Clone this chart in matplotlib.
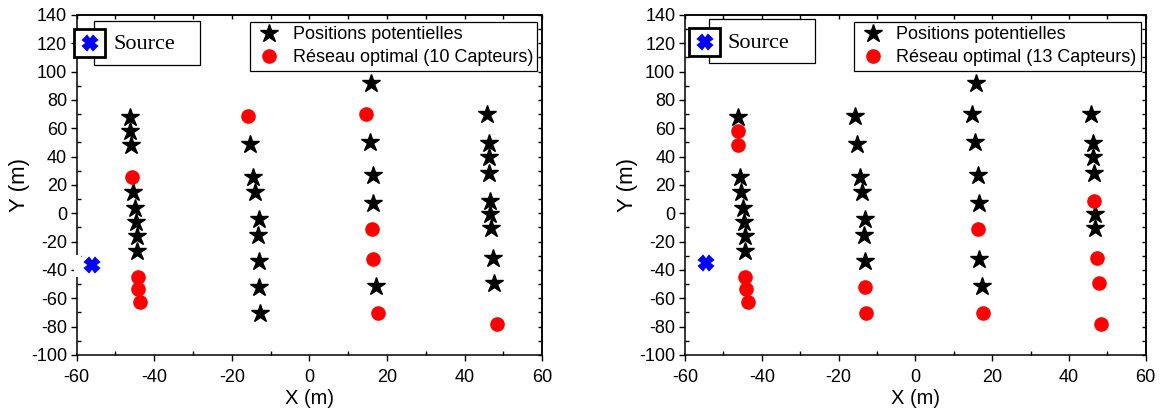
import matplotlib
matplotlib.use("Agg")
import matplotlib.pyplot as plt
from matplotlib.patches import Rectangle
from matplotlib.lines import Line2D

plt.rcParams['font.family'] = ['Liberation Sans', 'DejaVu Sans']
plt.rcParams['axes.unicode_minus'] = False

# potential sensor positions (4 lines of candidates)
pos_x = [-46.3, -46.2, -46.1, -45.8, -45.4, -45.0, -44.6, -44.5, -44.5, -44.3, -44.1, -43.7,
         -15.8, -15.3, -14.5, -14.0, -13.0, -13.3, -13.0, -13.0, -12.8,
         15.9, 14.7, 15.6, 16.4, 16.5, 16.2, 16.5, 17.3, 17.7,
         45.7, 46.2, 46.2, 46.4, 46.5, 46.7, 46.9, 47.3, 47.7, 48.4]
pos_y = [68.2, 58.2, 48.5, 25.9, 14.9, 4.0, -5.9, -16.0, -26.3, -44.7, -53.4, -62.5,
         68.8, 49.0, 25.9, 15.2, -4.0, -15.3, -33.6, -51.7, -70.5,
         92.2, 70.1, 50.6, 27.1, 7.5, -11.3, -32.5, -51.6, -70.1,
         70.1, 49.9, 39.6, 28.7, 8.7, -0.7, -10.5, -31.3, -48.9, -78.1]

# indices of the positions retained in each optimal network
optimal_10 = [3, 9, 10, 11, 12, 22, 26, 27, 29, 39]
optimal_13 = [1, 2, 9, 10, 11, 19, 20, 26, 29, 34, 37, 38, 39]

source_10 = (-56.1, -36.4)
source_13 = (-54.5, -35.2)

panels = [
    (optimal_10, source_10, "Réseau optimal (10 Capteurs)",
     [0.0659, 0.1446, 0.3998, 0.8193],
     (0.037, 0.853, 0.228, 0.129), (-0.006, 0.876, 0.067, 0.083), 0.078),
    (optimal_13, source_13, "Réseau optimal (13 Capteurs)",
     [0.5885, 0.1446, 0.3958, 0.8193],
     (0.052, 0.859, 0.230, 0.129), (0.009, 0.879, 0.067, 0.083), 0.093),
]


def draw_panel(fig, chosen, source, label, rect, frame, box, text_x):
    ax = fig.add_axes(rect)
    free = [i for i in range(len(pos_x)) if i not in chosen]
    ax.plot([pos_x[i] for i in free], [pos_y[i] for i in free], ls='none',
            marker='*', ms=13.5, color='black', zorder=3)
    ax.plot([pos_x[i] for i in chosen], [pos_y[i] for i in chosen], ls='none',
            marker='o', ms=9.5, color='red', mec='red', zorder=3)
    ax.plot([source[0]], [source[1]], ls='none', marker='X', ms=10,
            color='blue', mec='blue', mew=1.5, zorder=4)

    ax.set_xlim(-60, 60)
    ax.set_ylim(-100, 140)
    ax.set_xticks(range(-60, 61, 20))
    ax.set_yticks(range(-100, 141, 20))
    ax.set_xticks(range(-50, 60, 20), minor=True)
    ax.set_yticks(range(-90, 140, 20), minor=True)
    ax.tick_params(which='major', direction='out', length=4, width=1,
                   labelsize=13)
    ax.tick_params(axis='x', which='major', pad=6)
    ax.tick_params(axis='y', which='major', pad=3)
    ax.tick_params(which='minor', direction='in', length=3, width=1)
    for s in ax.spines.values():
        s.set_linewidth(1.1)

    top = ax.secondary_xaxis('top')
    top.set_xticks(range(-60, 61, 10))
    top.tick_params(direction='in', length=3, width=1, labeltop=False)
    right = ax.secondary_yaxis('right')
    right.set_yticks(range(-100, 141, 10))
    right.tick_params(direction='in', length=3, width=1, labelright=False)
    top.spines['top'].set_linewidth(1.1)
    right.spines['right'].set_linewidth(1.1)

    ax.set_xlabel("X (m)", fontsize=14.5, labelpad=2)
    ax.set_ylabel("Y (m)", fontsize=16, labelpad=0.5)

    handles = [
        Line2D([], [], ls='none', marker='*', ms=13.5, color='black'),
        Line2D([], [], ls='none', marker='o', ms=9.5, color='red'),
    ]
    leg = ax.legend(handles, ["Positions potentielles", label],
                    loc='upper right', bbox_to_anchor=(0.99, 0.98),
                    borderaxespad=0, fontsize=13, frameon=True,
                    fancybox=False, edgecolor='black', framealpha=1,
                    handletextpad=0.5, borderpad=0.25, labelspacing=0.32,
                    handlelength=1.6)
    leg.get_frame().set_linewidth(0.9)

    # "Source" legend box
    ax.add_patch(Rectangle(frame[:2], frame[2], frame[3], transform=ax.transAxes,
                           fill=True, facecolor='white', edgecolor='black',
                           lw=0.9, zorder=5, clip_on=False))
    ax.add_patch(Rectangle(box[:2], box[2], box[3], transform=ax.transAxes,
                           facecolor='white', edgecolor='black', lw=2,
                           zorder=6, clip_on=False))
    ax.plot([box[0] + box[2] / 2], [box[1] + box[3] / 2], marker='X', ms=10,
            color='blue', mec='blue', mew=1.5, transform=ax.transAxes,
            zorder=7, clip_on=False)
    ax.text(text_x, box[1] + box[3] / 2 - 0.005, "Source", transform=ax.transAxes,
            family='Liberation Serif', fontsize=16, va='center', ha='left',
            zorder=7)
    return ax


fig = plt.figure(figsize=(11.64, 4.15), dpi=100)
axes = [draw_panel(fig, *p) for p in panels]

# small white gap over the left spine next to the source (left panel)
axes[0].add_patch(Rectangle((-60.6, -44.8), 1.8, 15.5, facecolor='white',
                            edgecolor='none', zorder=10, clip_on=False))

fig.savefig("out.png", dpi=100)
